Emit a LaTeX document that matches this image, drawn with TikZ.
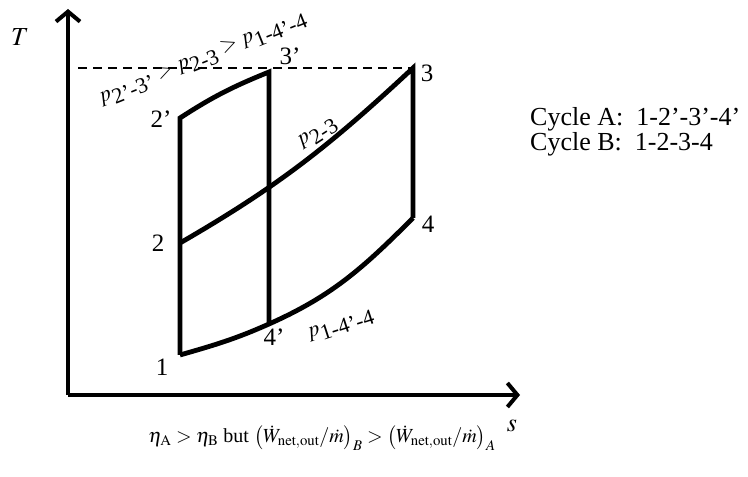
\documentclass[tikz,border=0pt]{standalone}
\usepackage{mathptmx}
\usepackage{fontspec}
\setmainfont{Liberation Serif}
\usepackage{tikz}
\usetikzlibrary{
  arrows.meta,   % axis arrow tips
  positioning    % relative placement of labels
}
\tikzset{
  axis line/.style={
    -{Straight Barb[length=10pt,width=24pt,line width=4pt]},
    line width=4.5pt
  },
  process line/.style={
    line width=4.8pt,
    line join=miter
  },
  state label/.style={
    font=\fontsize{25}{28}\selectfont,
    inner sep=0pt
  },
  pressure label/.style={
    font=\fontsize{22}{24}\selectfont,
    inner sep=0pt
  }
}

\begin{document}
\begin{tikzpicture}[x=1pt, y=1pt]
  \useasboundingbox (0,0) rectangle (748,477);

  % axes
  \coordinate (O) at (68,82);
  \coordinate (Ttip) at (68,468);
  \coordinate (stip) at (520,82);
  \draw[axis line] (O) -- (Ttip);
  \draw[axis line] (O) -- (stip);
  \node[font=\fontsize{26}{28}\selectfont] (Tlab) at (20,440) {$T$};
  \node[font=\fontsize{26}{28}\selectfont] (slab) at (512,51) {$s$};

  % states
  \coordinate (s1) at (180,122);
  \coordinate (s2) at (180,234);
  \coordinate (s2p) at (180,359);
  \coordinate (s3p) at (269,405);
  \coordinate (s3) at (413,409);
  \coordinate (s4) at (413,259);
  \coordinate (s4p) at (269,153);

  % maximum temperature line
  \coordinate (Tmax) at (78,409);
  \draw[line width=1.4pt, dash pattern=on 9pt off 6pt] (Tmax) -- (s3);

  % cycle B: 1-2-3-4 and cycle A: 1-2'-3'-4'
  \draw[process line] (s1) -- (s2p) to[out=33,in=-158] (s3p) -- (s4p);
  \draw[process line] (s2) to[out=30,in=-137] (s3) -- (s4);
  \draw[process line] (s1) to[out=16,in=-156] (s4p) to[out=24,in=-135] (s4);

  % state labels
  \node[state label] (l1) at (162,110) {1};
  \node[state label] (l2) at (158,234) {2};
  \node[state label] (l2p) at (161,358) {2’};
  \node[state label] (l3p) at (290,421) {3’};
  \node[state label] (l3) at (427,404) {3};
  \node[state label] (l4) at (428,253) {4};
  \node[state label] (l4p) at (274,140) {4’};

  % pressure labels
  \node[pressure label, rotate=33] (p23) at (318,343) {$p_{\textrm{2-3}}$};
  \node[pressure label, rotate=18] (p14) at (341,151) {$p_{\textrm{1-4’-4}}$};
  \node[pressure label, rotate=22] (pall) at (203,418)
    {$p_{\textrm{2’-3’}}>p_{\textrm{2-3}}>p_{\textrm{1-4’-4}}$};

  % cycle legend
  \node[font=\fontsize{26}{25}\selectfont, align=left, anchor=west, inner sep=0pt] (legend) at (530,345)
    {Cycle A:\ \ 1-2’-3’-4’\\Cycle B:\ \ 1-2-3-4};

  % efficiency and net work comparison
  \node[font=\fontsize{20}{24}\selectfont] (note) at (322,39)
    {$\eta_{\mathrm{A}}>\eta_{\mathrm{B}}$ but
     $\left(\dot W_{\mathrm{net,out}}/\dot m\right)_{B}>\left(\dot W_{\mathrm{net,out}}/\dot m\right)_{A}$};
\end{tikzpicture}
\end{document}
